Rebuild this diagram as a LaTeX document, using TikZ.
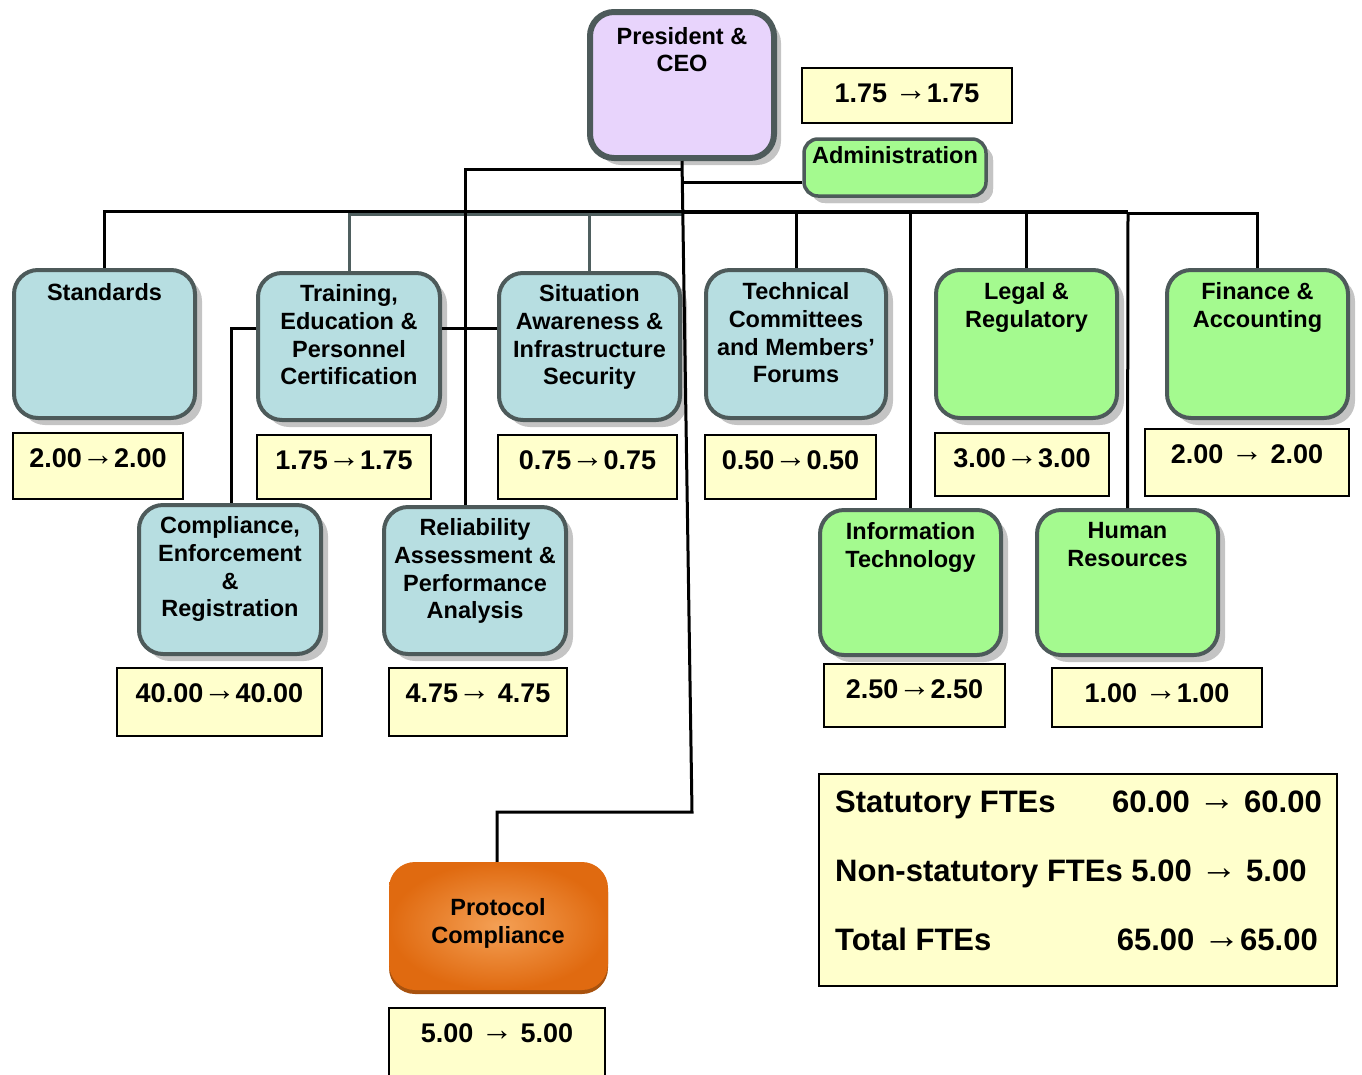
\documentclass[tikz,border=0pt]{standalone}
\usepackage{fontspec}
\setmainfont{Liberation Sans}
\usetikzlibrary{shadows}
\definecolor{lav}{HTML}{E8D4FC}
\definecolor{blu}{HTML}{B7DEE1}
\definecolor{grn}{HTML}{A4FA8F}
\definecolor{yel}{HTML}{FFFFCC}
\definecolor{bdr}{HTML}{4D5A5A}
\definecolor{shd}{HTML}{C4C4C4}
\definecolor{gln}{HTML}{4F5F5F}
\definecolor{orE}{HTML}{E06A10}
\definecolor{orC}{HTML}{F4A055}
\definecolor{orS}{HTML}{A8520E}
\newcommand\ar{{\mdseries\raisebox{0.06em}{\scalebox{1.2}{→}}}}
\tikzset{
  unit/.style={draw=bdr, line width=4pt, rounded corners=24pt, inner sep=0pt,
    drop shadow={shadow xshift=7pt, shadow yshift=-7pt, fill=shd, opacity=1}},
  lbl/.style={font=\fontsize{23.5}{27.7}\selectfont\bfseries, align=center, inner sep=0pt, anchor=north},
  valbox/.style={draw=black, line width=2pt, fill=yel, inner sep=0pt},
  valtxt/.style={font=\fontsize{27}{32}\selectfont\bfseries, inner sep=0pt},
  sumtxt/.style={font=\fontsize{31}{36}\selectfont\bfseries, inner sep=0pt},
  blk/.style={draw=black, line width=3pt},
  thk/.style={draw=black, line width=4.5pt},
  gry/.style={draw=gln, line width=3pt},
}
% name, x1, y1, x2, y2, style, text offset, text
\newcommand\orgbx[8]{%
  \node[unit, #6, minimum width={(#4-#2-4)*1pt}, minimum height={(#5-#3-4)*1pt}]
    (#1) at ({(#2+#4)/2},{(#3+#5)/2}) {};
  \node[lbl] (#1t) at ({(#2+#4)/2},{#3+#7}) {#8};}
% name, x1, y1, x2, y2, text
\newcommand\valbx[6]{%
  \node[valbox, minimum width={(#4-#2-2)*1pt}, minimum height={(#5-#3-2)*1pt}]
    (#1) at ({(#2+#4)/2},{(#3+#5)/2}) {};
  \node[valtxt, anchor=base] (#1t) at ({(#2+#4)/2},{#3+35}) {#6};}
\begin{document}
\begin{tikzpicture}[x=1pt,y=-1pt]
\useasboundingbox (0,0) rectangle (1362,1074);

% units
\orgbx{pres}{588}{10}{776}{160}{fill=lav, line width=6pt}{17}{President \&\\CEO}
\orgbx{admin}{802}{137}{988}{198}{fill=grn, line width=3.5pt, rounded corners=14pt, drop shadow={shadow xshift=7pt, shadow yshift=-7pt, fill=shd, opacity=1}}{9.5}{Administration}
\orgbx{std}{12}{268}{197}{420}{fill=blu}{15.5}{Standards}
\orgbx{train}{256}{271}{442}{422}{fill=blu}{13.5}{Training,\\Education \&\\Personnel\\Certification}
\orgbx{sit}{497}{271}{682}{422}{fill=blu}{13.5}{Situation\\Awareness \&\\Infrastructure\\Security}
\orgbx{tech}{704}{268}{888}{420}{fill=blu}{14.5}{Technical\\Committees\\and Members’\\Forums}
\orgbx{legal}{934}{268}{1119}{420}{fill=grn}{14.5}{Legal \&\\Regulatory}
\orgbx{fin}{1165}{268}{1350}{420}{fill=grn}{14.5}{Finance \&\\Accounting}
\orgbx{comp}{137}{503}{323}{656}{fill=blu}{13.5}{Compliance,\\Enforcement\\\&\\Registration}
\orgbx{rel}{382}{505}{568}{656}{fill=blu}{13.5}{Reliability\\Assessment \&\\Performance\\Analysis}
\orgbx{it}{818}{508}{1003}{657}{fill=grn}{14.5}{Information\\Technology}
\orgbx{hr}{1035}{508}{1220}{657}{fill=grn}{14.5}{Human\\Resources}

% protocol compliance
\node[rounded corners=26pt, minimum width=219pt, minimum height=128pt, inner sep=0pt,
  inner color=orC, outer color=orE,
  drop shadow={shadow xshift=0pt, shadow yshift=-4pt, fill=orS, opacity=1}]
  (prot) at (498.5,926) {};
\node[lbl, anchor=center] (prott) at (498,923.5) {Protocol\\Compliance};

% values
\valbx{vpres}{801}{67}{1013}{124}{1.75 \ar1.75}
\valbx{vstd}{12}{432}{184}{500}{2.00\ar2.00}
\valbx{vtrain}{256}{434}{432}{500}{1.75\ar1.75}
\valbx{vsit}{497}{434}{678}{500}{0.75\ar0.75}
\valbx{vtech}{704}{434}{877}{500}{0.50\ar0.50}
\valbx{vlegal}{934}{432}{1110}{497}{3.00\ar3.00}
\valbx{vfin}{1144}{428}{1350}{497}{2.00 \ar{} 2.00}
\valbx{vcomp}{116}{667}{323}{737}{40.00\ar40.00}
\valbx{vrel}{388}{667}{568}{737}{4.75\ar{} 4.75}
\valbx{vit}{823}{663}{1006}{728}{2.50\ar2.50}
\valbx{vhr}{1051}{667}{1263}{728}{1.00 \ar1.00}
\valbx{vprot}{388}{1007}{606}{1090}{5.00 \ar{} 5.00}

% summary
\node[valbox, minimum width=518pt, minimum height=212pt] (sum) at (1078,880) {};
\node[sumtxt, anchor=base west] (s1a) at (835,812) {Statutory FTEs};
\node[sumtxt, anchor=base east] (s1b) at (1322,812) {60.00 \ar{} 60.00};
\node[sumtxt, anchor=base west] (s2) at (835,881) {Non-statutory FTEs 5.00 \ar{} 5.00};
\node[sumtxt, anchor=base west] (s3a) at (835,950) {Total FTEs};
\node[sumtxt, anchor=base east] (s3b) at (1318,950) {65.00 \ar65.00};

% connectors
\coordinate (jA) at (682,169);
\coordinate (jB) at (682,182);
\coordinate (busL) at (682,211);
\coordinate (busG) at (682,214);
\coordinate (busR) at (1128,212);
\coordinate (trunk) at (692,812);
\draw[blk] (std.north) |- (busL);
\draw[gry] (train.north) |- (busG);
\draw[gry] (sit.north) -- (sit.north |- busG);
\draw[blk] (jA) -| ([xshift=-10pt]rel.north);
\draw[blk] ([yshift=18.5pt]train.west) -| ([xshift=1pt]comp.north);
\draw[blk] ([yshift=18.5pt]train.east) -- ([yshift=18.5pt]sit.west);
\draw[blk] (jB) -- (jB -| admin.west);
\draw[thk] (682,212) -- (busR);
\draw[blk] ([yshift=-1pt]busR) -| (fin.north);
\draw[blk] (tech.north) -- (tech.north |- busR);
\draw[blk] (it.north) -- (it.north |- busR);
\draw[blk] (legal.north) -- (legal.north |- busR);
\draw[blk] (hr.north) -- (busR);
\draw[blk] (pres.south) -- (trunk) -| ([xshift=-1.5pt]prot.north);
\end{tikzpicture}
\end{document}
